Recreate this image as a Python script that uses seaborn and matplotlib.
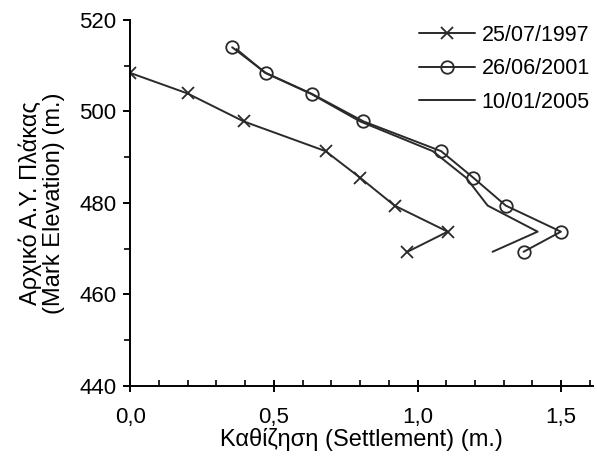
import pandas as pd
import numpy as np
import seaborn as sns
import matplotlib.pyplot as plt
from matplotlib.ticker import MultipleLocator, FuncFormatter

# Υψόμετρα σημείων και καθιζήσεις ανά ημερομηνία μέτρησης
elev_1997 = [508.4, 503.9, 497.8, 491.3, 485.5, 479.4, 473.7, 469.3]
settle_1997 = [0.00, 0.20, 0.395, 0.68, 0.80, 0.92, 1.105, 0.965]

elev_2001 = [514.0, 508.4, 503.8, 497.8, 491.3, 485.5, 479.4, 473.7, 469.3]
settle_2001 = [0.355, 0.472, 0.633, 0.812, 1.082, 1.194, 1.307, 1.499, 1.369]

elev_2005 = [513.6, 508.4, 503.8, 497.8, 491.3, 485.5, 479.4, 473.7, 469.3]
settle_2005 = [0.37, 0.47, 0.63, 0.80, 1.053, 1.169, 1.244, 1.418, 1.261]

labels = ["25/07/1997", "26/06/2001", "10/01/2005"]

sns.set_style("ticks")
plt.rcParams["font.family"] = ["Liberation Sans", "DejaVu Sans"]
plt.rcParams["text.color"] = "black"
plt.rcParams["axes.labelcolor"] = "black"
plt.rcParams["xtick.color"] = "black"
plt.rcParams["ytick.color"] = "black"

fig = plt.figure(figsize=(5.97, 4.61), dpi=100)
ax = fig.add_axes([0.218, 0.163, 0.775, 0.794])

col = "#2a2a2a"
series = [(settle_1997, elev_1997, "x"), (settle_2001, elev_2001, "o"), (settle_2005, elev_2005, None)]
for (s, e, m), lab in zip(series, labels):
    df = pd.DataFrame({"settle": s, "elev": e})
    kw = dict(marker=m, markersize=9, markerfacecolor="none", markeredgecolor=col,
              markeredgewidth=1.3) if m else {}
    sns.lineplot(data=df, x="settle", y="elev", sort=False, estimator=None,
                 color=col, linewidth=1.4, label=lab, ax=ax, **kw)

ax.set_xlim(0, 1.61)
ax.set_ylim(440, 520)
ax.xaxis.set_major_locator(MultipleLocator(0.5))
ax.xaxis.set_minor_locator(MultipleLocator(0.1))
ax.yaxis.set_major_locator(MultipleLocator(20))
ax.yaxis.set_minor_locator(MultipleLocator(10))
ax.xaxis.set_major_formatter(FuncFormatter(lambda v, p: f"{v:.1f}".replace(".", ",")))
ax.tick_params(axis="x", which="major", direction="inout", length=9, width=1.4, labelsize=16, pad=11)
ax.tick_params(axis="x", which="minor", direction="in", length=4, width=1.2)
ax.tick_params(axis="y", which="major", direction="out", length=5, width=1.4, labelsize=16, pad=5)
ax.tick_params(axis="y", which="minor", direction="out", length=4, width=1.2)
for sp in ["left", "bottom"]:
    ax.spines[sp].set_linewidth(1.4)
    ax.spines[sp].set_color("black")
sns.despine(ax=ax)

ax.set_xlabel("Καθίζηση (Settlement) (m.)", fontsize=17, labelpad=0)
ax.set_ylabel("Αρχικό Α.Υ. Πλάκας\n(Mark Elevation) (m.)", fontsize=17, labelpad=10,
              linespacing=1.05)

leg = ax.legend(loc="upper right", frameon=False, fontsize=15.5, handlelength=2.6,
                handletextpad=0.3, labelspacing=0.58, borderaxespad=0.0,
                bbox_to_anchor=(1.012, 1.01))
for h in leg.legend_handles:
    h.set_markersize(9)

fig.savefig("out.png", dpi=100)
